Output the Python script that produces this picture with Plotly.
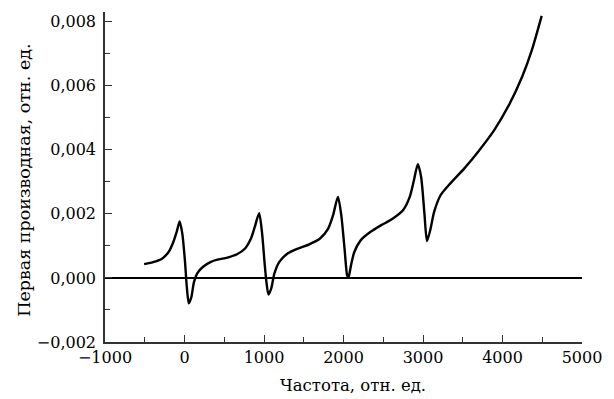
import plotly.graph_objects as go

# Frequency (rel. units) and first-derivative signal (rel. units)
freq = [-508, -385, -283, -200, -139, -98, -61, -28, 5, 29, 54, 86, 119, 160, 230, 332,
        414, 516, 660, 762, 836, 885, 939, 976, 1008, 1033, 1057, 1091, 1131, 1193, 1296,
        1420, 1562, 1705, 1807, 1869, 1930, 1972, 2013, 2046, 2062, 2095, 2136, 2218, 2341,
        2470, 2607, 2751, 2833, 2886, 2935, 2976, 3018, 3050, 3091, 3140, 3221, 3344, 3520,
        3694, 3898, 4082, 4247, 4370, 4493]
deriv = [0.00043, 0.00050, 0.00060, 0.00081, 0.00113, 0.00144, 0.00176, 0.00139, 0.00055,
         -0.00028, -0.00079, -0.00060, -0.00013, 0.00014, 0.00034, 0.00050,
         0.00057, 0.00062, 0.00074, 0.00092, 0.00123, 0.00160, 0.00202, 0.00139, 0.00045,
         -0.00018, -0.00052, -0.00033, 0.00014, 0.00050, 0.00076,
         0.00091, 0.00104, 0.00123, 0.00154, 0.00196, 0.00253, 0.00196, 0.00092, 0.00008,
         0.00001, 0.00040, 0.00081, 0.00118, 0.00144,
         0.00164, 0.00183, 0.00212, 0.00253, 0.00305, 0.00355, 0.00316, 0.00201, 0.00115,
         0.00149, 0.00206, 0.00258, 0.00295, 0.00342,
         0.00394, 0.00462, 0.00540, 0.00628, 0.00712, 0.00818]

x_tickvals = [-1000, 0, 1000, 2000, 3000, 4000, 5000]
x_ticktext = ["−1000", "0", "1000", "2000", "3000", "4000", "5000"]
y_tickvals = [-0.002, 0.0, 0.002, 0.004, 0.006, 0.008]
y_ticktext = ["−0,002", "0,000", "0,002", "0,004", "0,006", "0,008"]

FONT = "DejaVu Serif, Liberation Serif, serif"
FS = 16

fig = go.Figure()
fig.add_trace(go.Scatter(
    x=freq, y=deriv, mode="lines",
    line=dict(color="black", width=2.4, shape="spline", smoothing=0.7),
    showlegend=False, hoverinfo="skip"))

fig.update_layout(
    width=614, height=399,
    margin=dict(l=105, r=21, t=12, b=57),
    paper_bgcolor="white", plot_bgcolor="white",
    font=dict(family=FONT, size=FS, color="black"),
    showlegend=False,
)
fig.update_xaxes(
    range=[-1000, 5000], showgrid=False, zeroline=False,
    showline=True, linecolor="#333333", linewidth=1.5,
    ticks="inside", ticklen=7, tickwidth=1, tickcolor="#333333",
    tickvals=x_tickvals, ticktext=x_ticktext,
    minor=dict(ticks="inside", ticklen=5, tickwidth=1, tickcolor="#333333", dtick=500, tick0=0, showgrid=False),
    tickfont=dict(family=FONT, size=FS),
)
fig.update_yaxes(
    range=[-0.002, 0.0083], showgrid=False,
    zeroline=True, zerolinecolor="black", zerolinewidth=1.6,
    showline=True, linecolor="#333333", linewidth=1.5,
    ticks="inside", ticklen=7, tickwidth=1, tickcolor="#333333",
    tickvals=y_tickvals, ticktext=y_ticktext, ticklabelstandoff=4,
    minor=dict(ticks="inside", ticklen=5, tickwidth=1, tickcolor="#333333", dtick=0.001, tick0=0, showgrid=False),
    tickfont=dict(family=FONT, size=FS),
)
fig.add_annotation(
    text="Частота, отн. ед.", xref="paper", yref="paper",
    x=(359 - 105) / 488, y=-(385 - 342) / 330, xanchor="center", yanchor="middle",
    showarrow=False, font=dict(family=FONT, size=16.5))
fig.add_annotation(
    text="Первая производная, отн. ед.", xref="paper", yref="paper",
    x=-(105 - 22) / 488, y=(342 - 180) / 330, xanchor="center", yanchor="middle",
    textangle=-90, showarrow=False, font=dict(family=FONT, size=17.5))

fig.write_html("out.html")
